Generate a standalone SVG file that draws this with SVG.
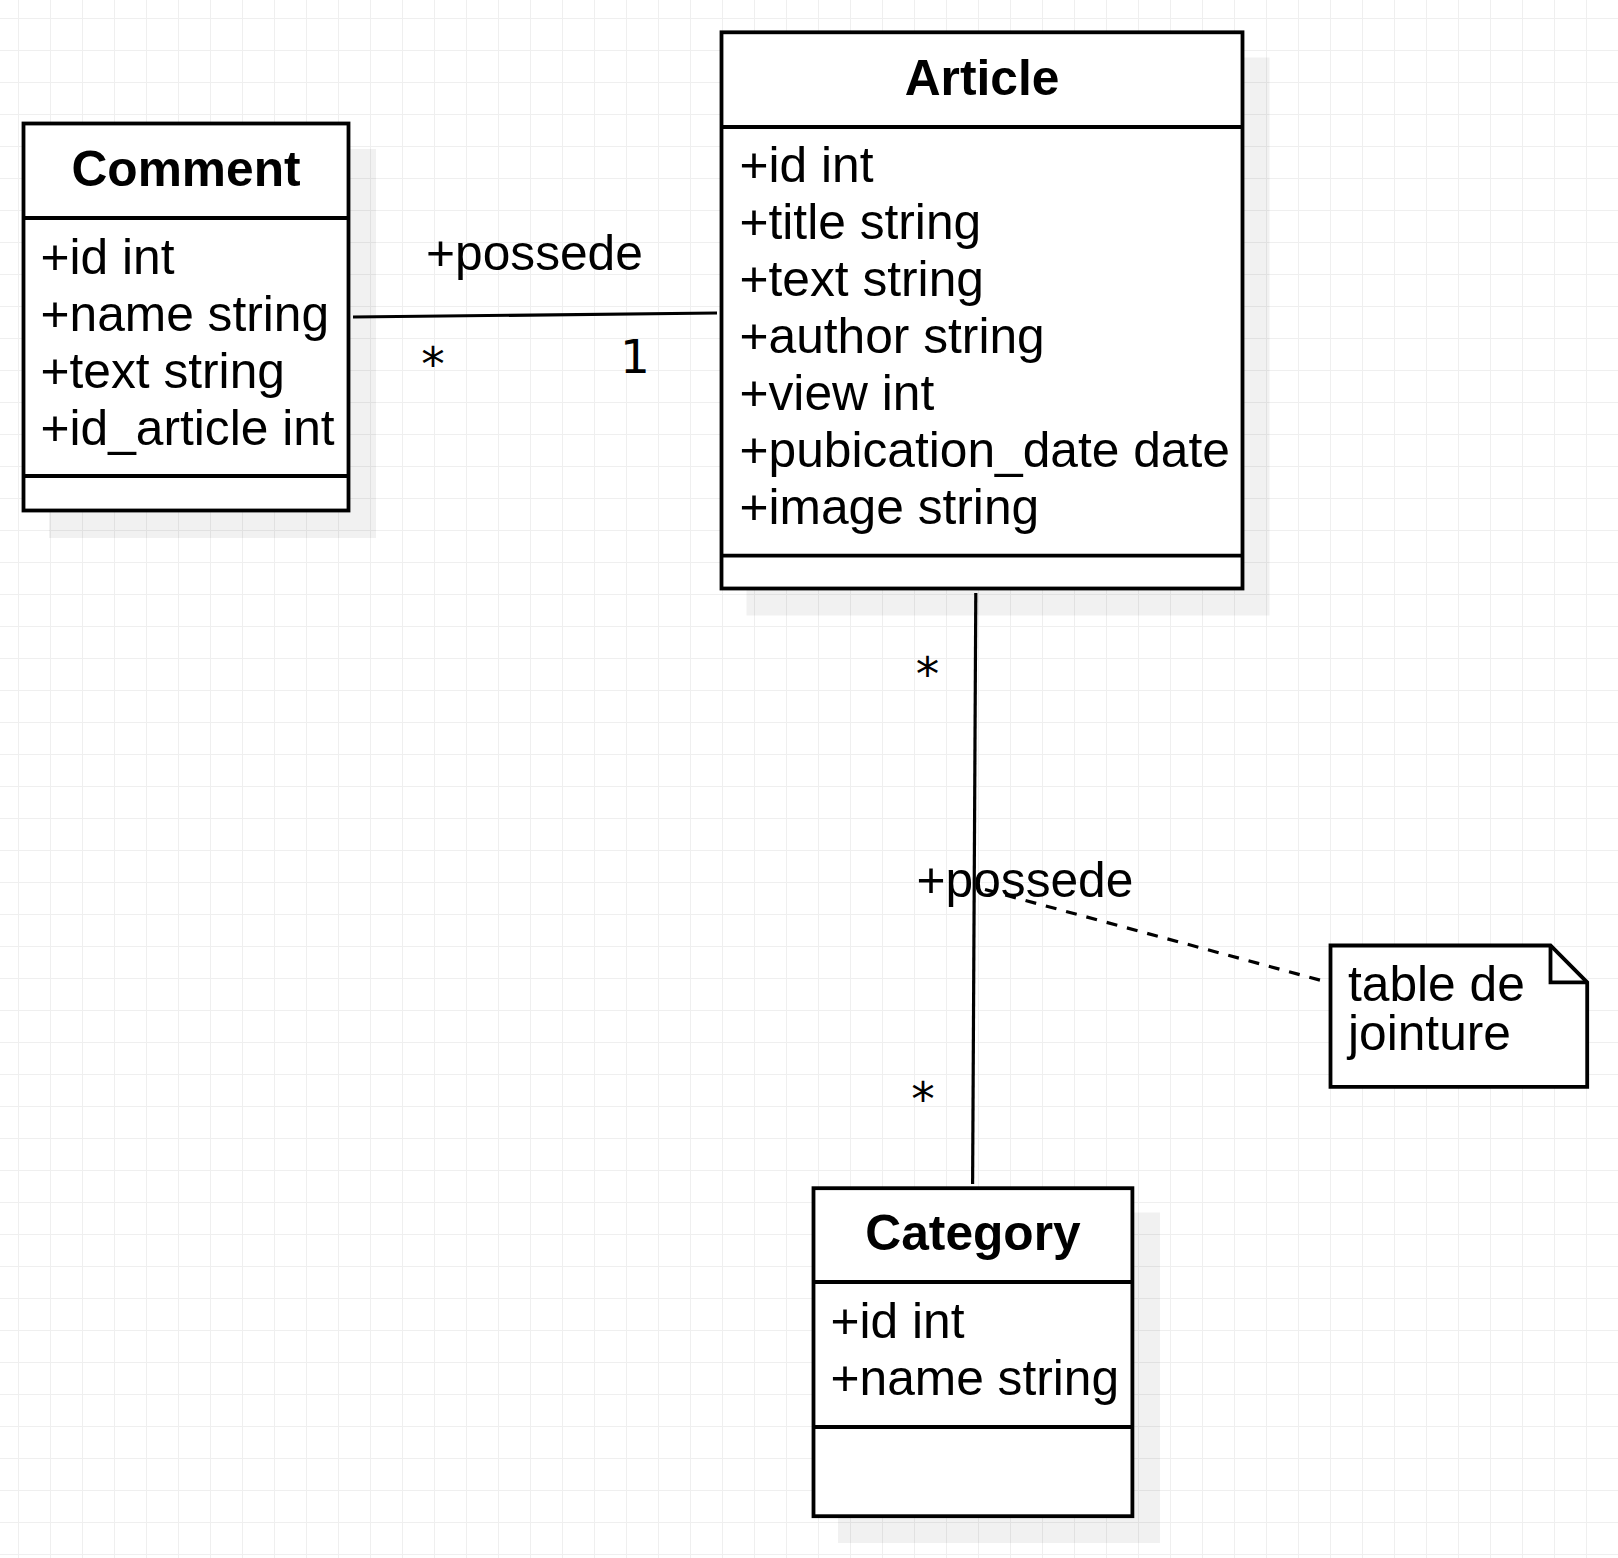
<svg xmlns="http://www.w3.org/2000/svg" width="1618" height="1558" viewBox="0 0 1618 1558">
<style>
.box{fill:#ffffff;stroke:#000000;stroke-width:3.8}
.sep{stroke:#000000;stroke-width:3.8;fill:none}
.shadow{fill:#000000;fill-opacity:0.055;stroke:none}
.title{font-family:"Liberation Sans",Arial,sans-serif;font-size:49.7px;font-weight:bold;fill:#000;text-anchor:middle}
.attr{font-family:"Liberation Sans",Arial,sans-serif;font-size:49.7px;fill:#000}
.lbl{font-family:"Liberation Sans",Arial,sans-serif;font-size:49.7px;fill:#000}
.mult{font-family:"DejaVu Sans",sans-serif;font-size:47px;fill:#000;text-anchor:middle}
.edge{stroke:#000000;stroke-width:3.2;fill:none}
.dash{stroke:#000000;stroke-width:3.2;fill:none;stroke-dasharray:11 10}
</style>
<defs>
<pattern id="grid" width="32" height="32" patternUnits="userSpaceOnUse" x="18" y="18">
<path d="M0 0.5H32M0.5 0V32" stroke="#efefef" stroke-width="1" fill="none"/>
</pattern>
</defs>
<rect x="0" y="0" width="1618" height="1558" fill="#ffffff"/>
<rect x="0" y="0" width="1618" height="1558" fill="url(#grid)"/>

<g id="connectors">
<line class="edge" x1="353" y1="317" x2="717" y2="313"/>
<line class="edge" x1="975.8" y1="593" x2="972.6" y2="1184"/>
<line class="dash" x1="985" y1="889.5" x2="1327" y2="982"/>
<text class="lbl" x="426" y="270">+possede</text>
<text class="mult" x="433" y="380">*</text>
<text class="mult" x="635" y="373">1</text>
<text class="mult" x="927.5" y="690">*</text>
<text class="mult" x="923" y="1115">*</text>
<text class="lbl" x="916.5" y="896.7">+possede</text>
</g>

<g id="comment">
<rect class="shadow" x="49" y="149" width="327" height="389"/>
<rect class="box" x="23.5" y="123.5" width="325" height="387"/>
<line class="sep" x1="23.5" y1="218" x2="348.5" y2="218"/>
<line class="sep" x1="23.5" y1="476" x2="348.5" y2="476"/>
<text class="title" x="186" y="186">Comment</text>
<text class="attr" x="40.5" y="273.5">+id int</text>
<text class="attr" x="40.5" y="330.5">+name string</text>
<text class="attr" x="40.5" y="387.5">+text string</text>
<text class="attr" x="40.5" y="444.5">+id_article int</text>
</g>

<g id="article">
<rect class="shadow" x="746.5" y="57.5" width="523" height="558"/>
<rect class="box" x="721.5" y="32.3" width="521" height="556.2"/>
<line class="sep" x1="721.5" y1="127" x2="1242.5" y2="127"/>
<line class="sep" x1="721.5" y1="555.6" x2="1242.5" y2="555.6"/>
<text class="title" x="982" y="95.4">Article</text>
<text class="attr" x="739.5" y="182.4">+id int</text>
<text class="attr" x="739.5" y="239.4">+title string</text>
<text class="attr" x="739.5" y="296.4">+text string</text>
<text class="attr" x="739.5" y="353.4">+author string</text>
<text class="attr" x="739.5" y="410.4">+view int</text>
<text class="attr" x="739.5" y="467.4">+pubication_date date</text>
<text class="attr" x="739.5" y="524.4">+image string</text>
</g>

<g id="category">
<rect class="shadow" x="838" y="1212.5" width="322" height="330.5"/>
<rect class="box" x="813.5" y="1188.2" width="318.9" height="328"/>
<line class="sep" x1="813.5" y1="1282" x2="1132.4" y2="1282"/>
<line class="sep" x1="813.5" y1="1427" x2="1132.4" y2="1427"/>
<text class="title" x="973" y="1249.5">Category</text>
<text class="attr" x="830.5" y="1337.5">+id int</text>
<text class="attr" x="830.5" y="1394.5">+name string</text>
</g>

<g id="note">
<path class="box" d="M1330.5 945.5H1550.5L1587.2 982.3V1086.8H1330.5Z"/>
<path class="sep" d="M1550.5 945.5V982.3H1587.2"/>
<text class="attr" x="1348" y="1000.7">table de</text>
<text class="attr" x="1348" y="1050">jointure</text>
</g>
</svg>
